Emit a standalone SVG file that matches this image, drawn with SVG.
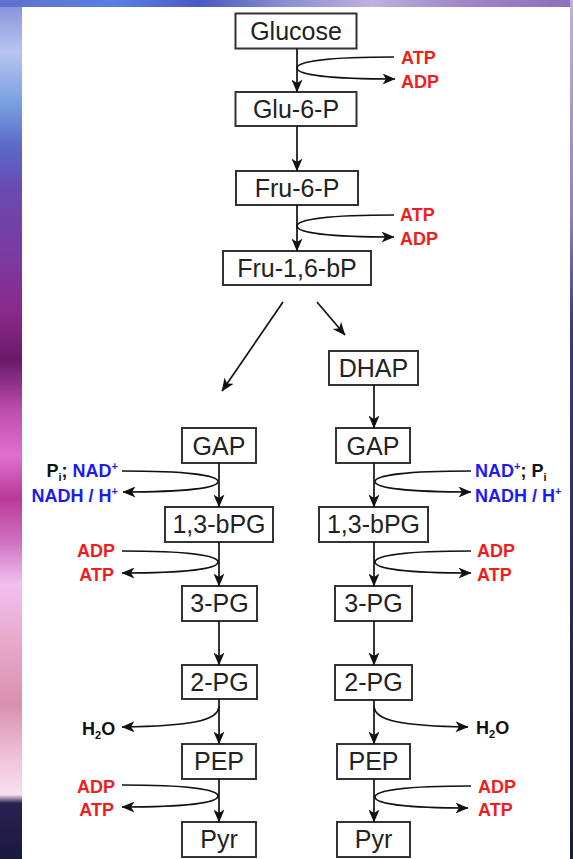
<svg xmlns="http://www.w3.org/2000/svg" width="573" height="859" viewBox="0 0 573 859">
<defs>
<linearGradient id="gLeft" x1="0" y1="0" x2="0" y2="1">
<stop offset="0" stop-color="#7f8fd8"/>
<stop offset="0.06" stop-color="#b8c4f0"/>
<stop offset="0.12" stop-color="#7aa0e0"/>
<stop offset="0.17" stop-color="#5a6ac8"/>
<stop offset="0.22" stop-color="#6a4ab0"/>
<stop offset="0.30" stop-color="#7a3aa0"/>
<stop offset="0.36" stop-color="#8a2a8a"/>
<stop offset="0.42" stop-color="#6a1a6a"/>
<stop offset="0.48" stop-color="#c050b0"/>
<stop offset="0.53" stop-color="#e070d0"/>
<stop offset="0.58" stop-color="#b83a98"/>
<stop offset="0.63" stop-color="#d070c0"/>
<stop offset="0.68" stop-color="#f0c0f0"/>
<stop offset="0.75" stop-color="#e8a8c8"/>
<stop offset="0.82" stop-color="#d890b0"/>
<stop offset="0.88" stop-color="#f0c0d8"/>
<stop offset="0.925" stop-color="#f8e0f0"/>
<stop offset="0.935" stop-color="#2a2050"/>
<stop offset="1" stop-color="#1a1a40"/>
</linearGradient>
<linearGradient id="gTop" x1="0" y1="0" x2="1" y2="0">
<stop offset="0" stop-color="#6070d0"/>
<stop offset="0.2" stop-color="#5a80e0"/>
<stop offset="0.35" stop-color="#4a5ac0"/>
<stop offset="0.5" stop-color="#8a90d0"/>
<stop offset="0.65" stop-color="#c0b0e0"/>
<stop offset="0.8" stop-color="#a088c8"/>
<stop offset="1" stop-color="#8a70b8"/>
</linearGradient>
<linearGradient id="gRight" x1="0" y1="0" x2="0" y2="1">
<stop offset="0" stop-color="#c0b0e0"/>
<stop offset="0.25" stop-color="#9080c0"/>
<stop offset="0.38" stop-color="#3a3a80"/>
<stop offset="1" stop-color="#1a1a40"/>
</linearGradient>
<marker id="arr" markerUnits="userSpaceOnUse" viewBox="0 0 13 11" refX="12.5" refY="5.5" markerWidth="13" markerHeight="11" orient="auto">
<path d="M0,0 L13,5.5 L0,11 L3.5,5.5 z" fill="#111"/>
</marker>
<style>
.box rect{fill:#fff;stroke:#333;stroke-width:2}
.box text{font-family:"Liberation Sans",Arial,sans-serif;font-size:25px;fill:#222;text-anchor:middle}
.c path{fill:none;stroke:#111;stroke-width:1.7}
.c .a{marker-end:url(#arr)}
.lb{font-family:"Liberation Sans",Arial,sans-serif;font-size:18px;font-weight:bold}
.red{fill:#f21c1c}
.blue{fill:#1c1cf0}
.blk{fill:#111}
</style>
</defs>
<rect x="0" y="0" width="22" height="859" fill="url(#gLeft)"/>
<rect x="0" y="0" width="573" height="7" fill="url(#gTop)"/>
<rect x="570" y="0" width="3" height="859" fill="url(#gRight)"/>
<rect x="22" y="7" width="548" height="852" fill="#fff"/>

<g id="glucose" class="box"><rect x="235.5" y="13.5" width="121" height="35"/><text x="296" y="40">Glucose</text></g>
<g id="glu6p" class="box"><rect x="235.5" y="92" width="121" height="34"/><text x="296" y="118">Glu-6-P</text></g>
<g id="fru6p" class="box"><rect x="236" y="171" width="122" height="34"/><text x="297" y="197">Fru-6-P</text></g>
<g id="fru16bp" class="box"><rect x="223" y="251" width="148" height="34"/><text x="297" y="277">Fru-1,6-bP</text></g>
<g id="dhap" class="box"><rect x="329" y="351" width="89" height="34"/><text x="373.5" y="377">DHAP</text></g>

<g id="gap-l" class="box"><rect x="182" y="428" width="74" height="35"/><text x="219" y="455">GAP</text></g>
<g id="bpg-l" class="box"><rect x="165" y="507" width="108" height="35"/><text x="219" y="533">1,3-bPG</text></g>
<g id="pg3-l" class="box"><rect x="182" y="586" width="75" height="35"/><text x="219.5" y="612">3-PG</text></g>
<g id="pg2-l" class="box"><rect x="182" y="665" width="75" height="34"/><text x="219.5" y="691">2-PG</text></g>
<g id="pep-l" class="box"><rect x="182" y="744" width="74" height="35"/><text x="219" y="770">PEP</text></g>
<g id="pyr-l" class="box"><rect x="182" y="822" width="74" height="35"/><text x="219" y="848">Pyr</text></g>

<g id="gap-r" class="box"><rect x="336" y="428" width="74" height="35"/><text x="373" y="455">GAP</text></g>
<g id="bpg-r" class="box"><rect x="319" y="507" width="109" height="35"/><text x="373.5" y="533">1,3-bPG</text></g>
<g id="pg3-r" class="box"><rect x="335" y="586" width="77" height="35"/><text x="373.5" y="612">3-PG</text></g>
<g id="pg2-r" class="box"><rect x="335" y="665" width="77" height="35"/><text x="373.5" y="691">2-PG</text></g>
<g id="pep-r" class="box"><rect x="337" y="744" width="73" height="35"/><text x="373.5" y="770">PEP</text></g>
<g id="pyr-r" class="box"><rect x="337" y="822" width="73" height="35"/><text x="373.5" y="848">Pyr</text></g>

<g id="connectors" class="c">
<path class="a" d="M297,48.5 V92"/>
<path class="a" d="M297,126 V171"/>
<path class="a" d="M297,205 V251"/>
<path d="M394,57 C330,57 297,61 297,68"/>
<path class="a" d="M297,68 C297,75 330,79 395,79"/>
<path d="M394,215 C330,215 297,219 297,226"/>
<path class="a" d="M297,226 C297,233 330,237 394,237"/>
<path class="a" d="M283,302 L222,391"/>
<path class="a" d="M317,302 L345,335"/>
<path class="a" d="M374,385 V428"/>

<path class="a" d="M219,463 V507"/>
<path class="a" d="M219,542 V586"/>
<path class="a" d="M219,621 V665"/>
<path class="a" d="M219,699 V744"/>
<path class="a" d="M219,779 V822"/>
<path d="M122,471 C185,471 218,475 218,481.5"/>
<path class="a" d="M218,481.5 C218,488 185,492 123,492"/>
<path d="M122,551 C185,551 218,555 218,562"/>
<path class="a" d="M218,562 C218,569 185,573 122,573"/>
<path class="a" d="M219,706 C219,721 190,726 122,727"/>
<path d="M122,785 C185,785 218,789 218,796"/>
<path class="a" d="M218,796 C218,803 185,807 122,807"/>

<path class="a" d="M374,463 V507"/>
<path class="a" d="M374,542 V586"/>
<path class="a" d="M374,621 V665"/>
<path class="a" d="M374,700 V744"/>
<path class="a" d="M374,779 V822"/>
<path d="M471,471 C408,471 375,475 375,481.5"/>
<path class="a" d="M375,481.5 C375,488 408,492 471,492"/>
<path d="M471,551 C408,551 375,555 375,562"/>
<path class="a" d="M375,562 C375,569 408,573 471,573"/>
<path class="a" d="M374,706 C374,721 403,726 468,727"/>
<path d="M471,786 C408,786 375,790 375,797"/>
<path class="a" d="M375,797 C375,804 408,808 468,808"/>
</g>

<g id="labels">
<text class="lb red" x="401" y="64">ATP</text>
<text class="lb red" x="401" y="88">ADP</text>
<text class="lb red" x="400" y="221">ATP</text>
<text class="lb red" x="400" y="245">ADP</text>

<text class="lb" x="118" y="477" text-anchor="end"><tspan class="blk">P</tspan><tspan class="blk" font-size="11" dy="4">i</tspan><tspan class="blk" dy="-4">; </tspan><tspan class="blue">NAD</tspan><tspan class="blue" font-size="11" dy="-7">+</tspan></text>
<text class="lb" x="118" y="502" text-anchor="end"><tspan class="blue">NADH / H</tspan><tspan class="blue" font-size="11" dy="-7">+</tspan></text>
<text class="lb red" x="115" y="557" text-anchor="end">ADP</text>
<text class="lb red" x="114" y="581" text-anchor="end">ATP</text>
<text class="lb blk" x="82" y="735">H<tspan font-size="11" dy="4">2</tspan><tspan dy="-4">O</tspan></text>
<text class="lb red" x="115" y="793" text-anchor="end">ADP</text>
<text class="lb red" x="114" y="816" text-anchor="end">ATP</text>

<text class="lb" x="475" y="477"><tspan class="blue">NAD</tspan><tspan class="blue" font-size="11" dy="-7">+</tspan><tspan class="blk" dy="7">; P</tspan><tspan class="blk" font-size="11" dy="4">i</tspan></text>
<text class="lb" x="475" y="502"><tspan class="blue">NADH / H</tspan><tspan class="blue" font-size="11" dy="-7">+</tspan></text>
<text class="lb red" x="477" y="557">ADP</text>
<text class="lb red" x="477" y="581">ATP</text>
<text class="lb blk" x="476" y="734">H<tspan font-size="11" dy="4">2</tspan><tspan dy="-4">O</tspan></text>
<text class="lb red" x="478" y="793">ADP</text>
<text class="lb red" x="478" y="816">ATP</text>
</g>
</svg>
